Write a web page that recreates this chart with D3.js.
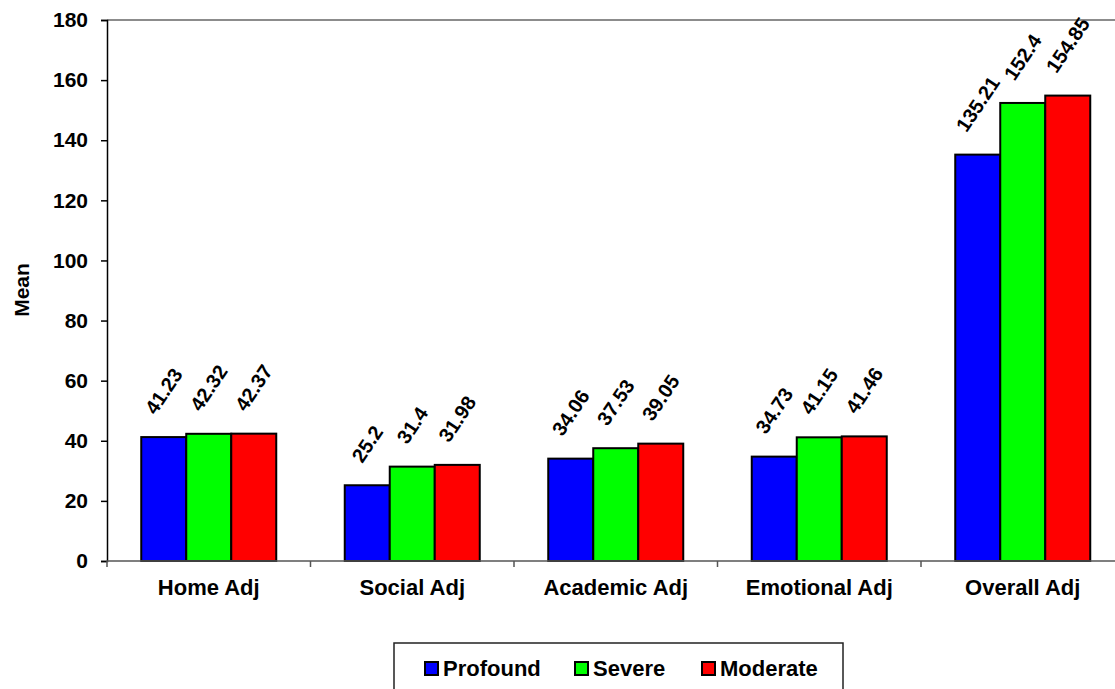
<!DOCTYPE html>
<html>
<head>
<meta charset="utf-8">
<script src="https://cdn.jsdelivr.net/npm/d3@7"></script>
<style>
  html, body { margin: 0; padding: 0; background: #fff; }
  svg { display: block; font-family: Arial, "Liberation Sans", sans-serif; font-weight: bold; }
</style>
</head>
<body>
<svg id="chart" width="1115" height="689"></svg>
<script>
// Mean adjustment scores by category and level of impairment
const categories = ["Home Adj", "Social Adj", "Academic Adj", "Emotional Adj", "Overall Adj"];
const seriesNames = ["Profound", "Severe", "Moderate"];
const profound = [41.23, 25.2, 34.06, 34.73, 135.21];
const severe   = [42.32, 31.4, 37.53, 41.15, 152.4];
const moderate = [42.37, 31.98, 39.05, 41.46, 154.85];
const yTicks = [0, 20, 40, 60, 80, 100, 120, 140, 160, 180];
const colors = ["#0000FF", "#00FF00", "#FF0000"];

const values = [profound, severe, moderate];
const svg = d3.select("#chart");

const plot = { left: 107, top: 20, right: 1124.5, bottom: 561 };

const y = d3.scaleLinear().domain([0, 180]).range([plot.bottom, plot.top]);
const x0 = d3.scaleBand().domain(categories).range([plot.left, plot.right]).padding(0);
const x1 = d3.scaleBand().domain(seriesNames).range([0, x0.bandwidth()])
  .paddingInner(0).paddingOuter(0.761);
const color = d3.scaleOrdinal().domain(seriesNames).range(colors);

// top frame edge
svg.append("line")
  .attr("x1", plot.left).attr("x2", 1115)
  .attr("y1", plot.top).attr("y2", plot.top)
  .attr("stroke", "#8c8c8c").attr("stroke-width", 2);

// bars
const rows = [];
categories.forEach((c, i) => {
  seriesNames.forEach((s, j) => rows.push({ cat: c, series: s, value: values[j][i] }));
});

svg.append("g").selectAll("rect").data(rows).join("rect")
  .attr("x", d => x0(d.cat) + x1(d.series))
  .attr("y", d => y(d.value))
  .attr("width", x1.bandwidth())
  .attr("height", d => y(0) - y(d.value))
  .attr("fill", d => color(d.series))
  .attr("stroke", "#000").attr("stroke-width", 2);

// y axis
const yAxis = d3.axisLeft(y).tickValues(yTicks).tickSize(6).tickPadding(13).tickFormat(d3.format("d"));
const gy = svg.append("g").attr("transform", `translate(${plot.left},0)`).call(yAxis);
gy.select(".domain").attr("stroke", "#000").attr("stroke-width", 1.5);
gy.selectAll(".tick line").attr("stroke", "#000").attr("stroke-width", 1.5);
gy.selectAll(".tick text").attr("font-size", 21).attr("font-weight", "bold")
  .attr("font-family", "Arial, 'Liberation Sans', sans-serif").attr("fill", "#000");

// x axis
const gx = svg.append("g").attr("transform", `translate(0,${plot.bottom})`);
gx.append("line").attr("x1", plot.left).attr("x2", 1115).attr("y1", 0).attr("y2", 0)
  .attr("stroke", "#555").attr("stroke-width", 1.5);
const catTicks = categories.map(c => x0(c));
gx.selectAll("line.ct").data(catTicks).join("line").attr("class", "ct")
  .attr("x1", d => d).attr("x2", d => d).attr("y1", 0).attr("y2", 6)
  .attr("stroke", "#555").attr("stroke-width", 1.5);
gx.selectAll("text").data(categories).join("text")
  .attr("x", d => x0(d) + x0.bandwidth() / 2)
  .attr("y", 34)
  .attr("text-anchor", "middle")
  .attr("font-size", 22)
  .attr("fill", "#000")
  .text(d => d);

// y axis title
svg.append("text")
  .attr("transform", "translate(29,290) rotate(-90)")
  .attr("text-anchor", "middle")
  .attr("font-size", 21)
  .attr("fill", "#000")
  .text("Mean");

// rotated value labels above bars
const angle = 56, rad = angle * Math.PI / 180, gap = 21, fs = 20;
svg.append("g").selectAll("text").data(rows).join("text")
  .attr("font-size", fs)
  .attr("fill", "#000")
  .attr("text-anchor", "middle")
  .attr("dominant-baseline", "central")
  .text(d => d.value)
  .each(function (d) {
    const L = this.getComputedTextLength();
    const h = fs * 0.75;
    const halfV = (L * Math.sin(rad) + h * Math.cos(rad)) / 2;
    const cx = x0(d.cat) + x1(d.series) + x1.bandwidth() / 2;
    const cy = y(d.value) - gap - halfV;
    d3.select(this).attr("transform", `translate(${cx},${cy}) rotate(${-angle})`);
  });

// legend
const lg = svg.append("g");
lg.append("rect").attr("x", 394).attr("y", 643).attr("width", 449).attr("height", 60)
  .attr("fill", "#fff").attr("stroke", "#222").attr("stroke-width", 1.5);
const legendX = [425, 575, 702];
const items = lg.selectAll("g.item").data(seriesNames).join("g").attr("class", "item")
  .attr("transform", (d, i) => `translate(${legendX[i]},662)`);
items.append("rect").attr("width", 13).attr("height", 13)
  .attr("fill", d => color(d)).attr("stroke", "#000").attr("stroke-width", 2);
items.append("text").attr("x", 18).attr("y", 13.5).attr("font-size", 22).attr("fill", "#000")
  .text(d => d);
</script>
</body>
</html>
